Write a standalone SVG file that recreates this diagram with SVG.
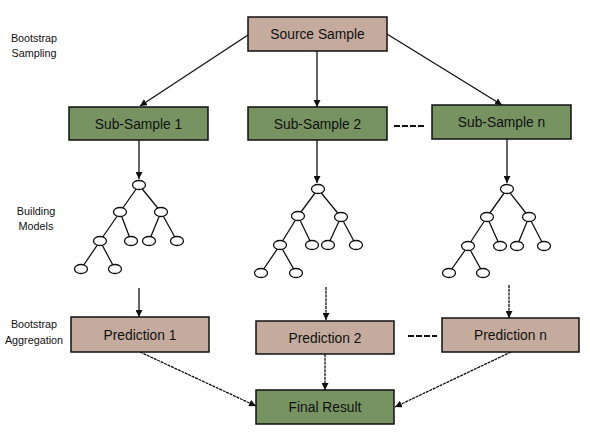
<svg xmlns="http://www.w3.org/2000/svg" width="590" height="438" viewBox="0 0 590 438">
<style>
.tan{fill:#c4ab9d;stroke:#111;stroke-width:1.5}
.grn{fill:#779362;stroke:#111;stroke-width:1.5}
.bt{font-family:"Liberation Sans",Arial,sans-serif;font-size:13.8px;fill:#111;text-anchor:middle}
.lb{font-family:"Liberation Sans",Arial,sans-serif;font-size:10.8px;fill:#111;text-anchor:middle}
.c{stroke:#111;stroke-width:1.3;fill:none}
.d{stroke:#111;stroke-width:1.3;fill:none;stroke-dasharray:3 0.8}
.dash{stroke:#111;stroke-width:2;stroke-dasharray:6 2}
.e{stroke:#111;stroke-width:1.3}
.n{fill:#fff;stroke:#111;stroke-width:1.3}
</style>
<defs>
<marker id="ah" viewBox="0 0 10 10" refX="10" refY="5" markerWidth="7" markerHeight="7" markerUnits="userSpaceOnUse" orient="auto">
<path d="M0,0 L10,5 L0,10 z" fill="#111"/>
</marker>
</defs>
<rect width="590" height="438" fill="#fff"/>

<g id="labels">
<text class="lb" x="34" y="42">Bootstrap</text>
<text class="lb" x="34" y="57">Sampling</text>
<text class="lb" x="36" y="215">Building</text>
<text class="lb" x="36" y="230">Models</text>
<text class="lb" x="34" y="328">Bootstrap</text>
<text class="lb" x="34" y="344">Aggregation</text>
</g>

<g id="connectors">
<line class="c" x1="248" y1="35" x2="140" y2="106" marker-end="url(#ah)"/>
<line class="c" x1="317" y1="51" x2="317" y2="107" marker-end="url(#ah)"/>
<line class="c" x1="387" y1="34" x2="502" y2="105" marker-end="url(#ah)"/>
<line class="c" x1="139" y1="140" x2="139" y2="179" marker-end="url(#ah)"/>
<line class="c" x1="317" y1="140" x2="317" y2="183" marker-end="url(#ah)"/>
<line class="c" x1="507" y1="139" x2="507" y2="183" marker-end="url(#ah)"/>
<line class="c" x1="139" y1="288" x2="139" y2="317" marker-end="url(#ah)"/>
<line class="d" x1="326" y1="287" x2="326" y2="320" marker-end="url(#ah)"/>
<line class="d" x1="509" y1="285" x2="509" y2="318" marker-end="url(#ah)"/>
<line class="d" x1="140" y1="352" x2="256" y2="406" marker-end="url(#ah)"/>
<line class="d" x1="325" y1="354" x2="325" y2="390" marker-end="url(#ah)"/>
<line class="d" x1="511" y1="352" x2="395" y2="407" marker-end="url(#ah)"/>
<line class="dash" x1="394" y1="126" x2="424" y2="126"/>
<line class="dash" x1="408" y1="336" x2="437" y2="336"/>
</g>

<g id="source"><rect class="tan" x="248" y="17" width="139" height="34"/><text class="bt" x="317.5" y="39">Source Sample</text></g>
<g id="sub1"><rect class="grn" x="69" y="107" width="139" height="33"/><text class="bt" x="138.5" y="128.5">Sub-Sample 1</text></g>
<g id="sub2"><rect class="grn" x="248" y="107" width="139" height="33"/><text class="bt" x="317.5" y="128.5">Sub-Sample 2</text></g>
<g id="subn"><rect class="grn" x="432" y="105" width="139" height="34"/><text class="bt" x="501.5" y="127">Sub-Sample n</text></g>

<g id="tree1">
<path class="e" d="M139,185 L120,212 M139,185 L161,212 M120,212 L100,241 M120,212 L131,241 M161,212 L149,241 M161,212 L177,241 M100,241 L81,269 M100,241 L115,269"/>
<ellipse class="n" cx="139" cy="185" rx="6.5" ry="4.5"/>
<ellipse class="n" cx="120" cy="212" rx="6.5" ry="4.5"/>
<ellipse class="n" cx="161" cy="212" rx="6.5" ry="4.5"/>
<ellipse class="n" cx="100" cy="241" rx="6.5" ry="4.5"/>
<ellipse class="n" cx="131" cy="241" rx="6.5" ry="4.5"/>
<ellipse class="n" cx="149" cy="241" rx="6.5" ry="4.5"/>
<ellipse class="n" cx="177" cy="241" rx="6.5" ry="4.5"/>
<ellipse class="n" cx="81" cy="269" rx="6.5" ry="4.5"/>
<ellipse class="n" cx="115" cy="269" rx="6.5" ry="4.5"/>
</g>

<g id="tree2">
<path class="e" d="M318,189 L298,216 M318,189 L341,217 M298,216 L280,245 M298,216 L312,245 M341,217 L328,245 M341,217 L356,245 M280,245 L261,273 M280,245 L296,273"/>
<ellipse class="n" cx="318" cy="189" rx="6.5" ry="4.5"/>
<ellipse class="n" cx="298" cy="216" rx="6.5" ry="4.5"/>
<ellipse class="n" cx="341" cy="217" rx="6.5" ry="4.5"/>
<ellipse class="n" cx="280" cy="245" rx="6.5" ry="4.5"/>
<ellipse class="n" cx="312" cy="245" rx="6.5" ry="4.5"/>
<ellipse class="n" cx="328" cy="245" rx="6.5" ry="4.5"/>
<ellipse class="n" cx="356" cy="245" rx="6.5" ry="4.5"/>
<ellipse class="n" cx="261" cy="273" rx="6.5" ry="4.5"/>
<ellipse class="n" cx="296" cy="273" rx="6.5" ry="4.5"/>
</g>

<g id="treen">
<path class="e" d="M507,189 L487,217 M507,189 L529,217 M487,217 L468,246 M487,217 L500,246 M529,217 L517,246 M529,217 L544,246 M468,246 L449,273 M468,246 L483,273"/>
<ellipse class="n" cx="507" cy="189" rx="6.5" ry="4.5"/>
<ellipse class="n" cx="487" cy="217" rx="6.5" ry="4.5"/>
<ellipse class="n" cx="529" cy="217" rx="6.5" ry="4.5"/>
<ellipse class="n" cx="468" cy="246" rx="6.5" ry="4.5"/>
<ellipse class="n" cx="500" cy="246" rx="6.5" ry="4.5"/>
<ellipse class="n" cx="517" cy="246" rx="6.5" ry="4.5"/>
<ellipse class="n" cx="544" cy="246" rx="6.5" ry="4.5"/>
<ellipse class="n" cx="449" cy="273" rx="6.5" ry="4.5"/>
<ellipse class="n" cx="483" cy="273" rx="6.5" ry="4.5"/>
</g>

<g id="pred1"><rect class="tan" x="71" y="317" width="138" height="35"/><text class="bt" x="140" y="339.5">Prediction 1</text></g>
<g id="pred2"><rect class="tan" x="256" y="321" width="138" height="33"/><text class="bt" x="325" y="342.5">Prediction 2</text></g>
<g id="predn"><rect class="tan" x="442" y="318" width="137" height="34"/><text class="bt" x="510.5" y="340">Prediction n</text></g>
<g id="final"><rect class="grn" x="256" y="390" width="138" height="34"/><text class="bt" x="325" y="412">Final Result</text></g>
</svg>
